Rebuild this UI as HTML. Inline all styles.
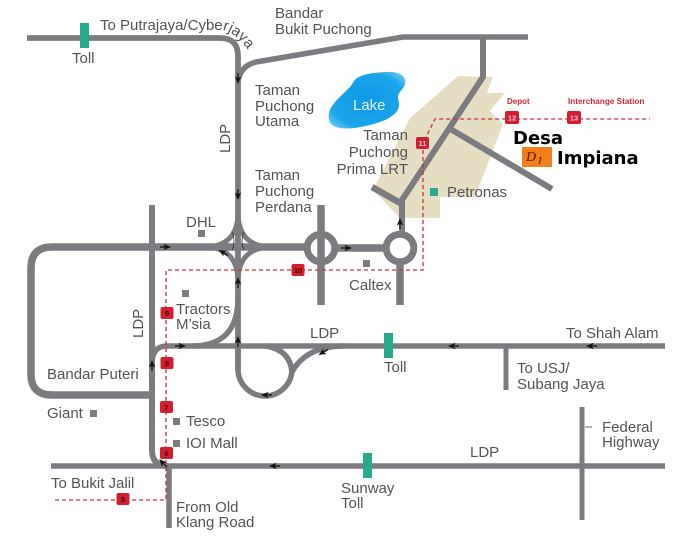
<!DOCTYPE html>
<html><head><meta charset="utf-8"><style>
html,body{margin:0;padding:0;background:#fff;}
body{width:674px;height:538px;overflow:hidden;}
svg{display:block;}
.t{font-family:"Liberation Sans",Arial,sans-serif;font-size:15px;fill:#535356;}
.r{fill:none;stroke:#7c7c80;stroke-linecap:butt;stroke-linejoin:round;}
.mk{fill:#d21f2f;}
.mn{font-family:"Liberation Sans",Arial,sans-serif;font-size:7.5px;font-weight:bold;text-anchor:middle;}
</style></head><body>
<svg width="674" height="538" viewBox="0 0 674 538" xmlns="http://www.w3.org/2000/svg">
<defs>
<radialGradient id="lk" cx="50%" cy="50%" r="60%">
<stop offset="0" stop-color="#0f98e4"/><stop offset="0.8" stop-color="#1ba5ea"/><stop offset="1" stop-color="#55c0f2"/>
</radialGradient>
<g id="ar"><path d="M-7,0 H1" stroke="#151515" stroke-width="1.3"/><path d="M4,0 L-3.5,-3.2 L-1.8,0 L-3.5,3.2 Z" fill="#151515"/></g>
</defs>

<!-- beige area -->
<polygon points="410,118 458,76 493,77 487,93 505,93 490,111 503,124 475,197 440,197 440,218 400,218 373,190" fill="#e6dec2"/>

<!-- lake -->
<path d="M357,78 C365,73 380,72 390,72 C400,72 407,77 405,84 C404,89 398,92 398,97 C398,102 401,105 397,111 C392,118 382,122 370,125 C358,128 345,130 336,127 C327,124 327,113 332,106 C337,99 345,92 350,87 C353,83 354,80 357,78 Z" fill="url(#lk)"/>

<!-- roads -->
<path class="r" stroke-width="5.8" d="M27,38 H220 Q238,38 238,56 V370"/>
<path class="r" stroke-width="5.5" d="M238,82 Q240,66 256,62 L403,37 H528"/>
<path class="r" stroke-width="6" d="M483,37 V77 L402,200 V234"/>
<path class="r" stroke-width="6.5" d="M372,187 L402,204"/>
<path class="r" stroke-width="6" d="M447,127 L552,189"/>
<!-- roundabouts -->
<path class="r" stroke-width="7.5" d="M321,205 V305 M400,262 V305"/>
<circle cx="321" cy="248" r="13.8" class="r" stroke-width="7"/>
<circle cx="400" cy="248" r="13.8" class="r" stroke-width="7"/>
<!-- horizontal 247 + loop -->
<path class="r" stroke-width="7.5" d="M152,247 H52 Q31,247 31,268 V374 Q31,395 52,395 H152"/>
<path class="r" stroke-width="7.5" d="M152,247 H307 M335,248 H386"/>
<!-- LDP vertical left -->
<path class="r" stroke-width="6" d="M152,205 V450 Q152,466 168,466"/>
<path class="r" stroke-width="5.5" d="M169,466 V528"/>
<!-- bottom LDP -->
<path class="r" stroke-width="5.5" d="M51,466 H665"/>
<path class="r" stroke-width="5" d="M582,407 V520"/>
<path d="M585,427 H592" stroke="#666" stroke-width="1"/>
<!-- middle LDP -->
<path class="r" stroke-width="5.5" d="M152,364 Q152,346 167,346 H665"/>
<path class="r" stroke-width="5" d="M506,346 V390"/>
<!-- loop under LDP -->
<path class="r" stroke-width="5.5" d="M238,346 V368 A27,27 0 0 0 292,370"/>
<path class="r" stroke-width="5.5" d="M292,372 Q290,350 266,346"/>
<path class="r" stroke-width="5.5" d="M292,372 Q306,346 345,346"/>
<!-- tractors curve -->
<path class="r" stroke-width="5.5" d="M238,298 Q238,346 192,346"/>
<!-- cloverleaf -->
<path class="r" stroke-width="5" d="M238,212 Q238,247 204,247 M238,212 Q238,247 272,247 M238,282 Q238,247 204,247 M238,282 Q238,247 272,247"/>
<path d="M232,232 Q236,240 232,250 M244,232 Q240,240 244,250" fill="none" stroke="#333" stroke-width="0.8"/>

<!-- toll / green -->
<rect x="80" y="23" width="9" height="25" fill="#25ab8b"/>
<rect x="384" y="333" width="9" height="25" fill="#25ab8b"/>
<rect x="363" y="453" width="9" height="25" fill="#25ab8b"/>
<rect x="430" y="188" width="8" height="8" fill="#25ab8b"/>
<!-- gray squares -->
<g fill="#7c7c80">
<rect x="198" y="230" width="7" height="7"/>
<rect x="182" y="290" width="7" height="7"/>
<rect x="363" y="260" width="7" height="7"/>
<rect x="90" y="410" width="7" height="7"/>
<rect x="173" y="418" width="7" height="7"/>
<rect x="173" y="440" width="7" height="7"/>
</g>

<!-- red dashed line -->
<path d="M55,500 H166 V270 H423 V143 L435,119 H650" fill="none" stroke="#c9303c" stroke-width="1.3" stroke-dasharray="4 3"/>
<!-- markers -->
<g>
<rect class="mk" x="116.5" y="493" width="13" height="12" rx="2"/><text class="mn" x="123" y="502" fill="#4a0000">5</text>
<rect class="mk" x="160" y="447" width="13" height="12" rx="2"/><text class="mn" x="166.5" y="456" fill="#4a0000">6</text>
<rect class="mk" x="160" y="401" width="13" height="12" rx="2"/><text class="mn" x="166.5" y="410" fill="#4a0000">7</text>
<rect class="mk" x="160.5" y="357" width="13" height="12" rx="2"/><text class="mn" x="167" y="366" fill="#4a0000">8</text>
<rect class="mk" x="160.5" y="307" width="13" height="12" rx="2"/><text class="mn" x="167" y="316" fill="#4a0000">9</text>
<rect class="mk" x="291.5" y="264" width="13" height="12" rx="2"/><text class="mn" x="298" y="273" fill="#4a0000">10</text>
<rect class="mk" x="416" y="137" width="13" height="12" rx="2"/><text class="mn" x="422.5" y="146" fill="#fbd">11</text>
<rect class="mk" x="505" y="111" width="14" height="13" rx="2"/><text class="mn" x="512" y="120.5" fill="#fbd">12</text>
<rect class="mk" x="567" y="111" width="14" height="13" rx="2"/><text class="mn" x="574" y="120.5" fill="#fbd">13</text>
</g>
<text x="507" y="104" font-family="Liberation Sans,Arial,sans-serif" font-size="8" font-weight="bold" fill="#c8283a">Depot</text>
<text x="568" y="104" font-family="Liberation Sans,Arial,sans-serif" font-size="8.2" font-weight="bold" fill="#c8283a">Interchange Station</text>

<!-- arrows -->
<use href="#ar" transform="translate(238,80) rotate(90)"/>
<use href="#ar" transform="translate(238,196) rotate(90)"/>
<use href="#ar" transform="translate(238,281) rotate(-90)"/>
<use href="#ar" transform="translate(238,340) rotate(-90)"/>
<use href="#ar" transform="translate(167,247)"/>
<use href="#ar" transform="translate(222,252) rotate(-150)"/>
<use href="#ar" transform="translate(348,248)"/>
<use href="#ar" transform="translate(400,222) rotate(-90)"/>
<use href="#ar" transform="translate(152,364) rotate(-90)"/>
<use href="#ar" transform="translate(182,346)"/>
<use href="#ar" transform="translate(452,346) rotate(180)"/>
<use href="#ar" transform="translate(590,346) rotate(180)"/>
<use href="#ar" transform="translate(322,353) rotate(150)"/>
<use href="#ar" transform="translate(265,395) rotate(180)"/>
<use href="#ar" transform="translate(273,466) rotate(180)"/>
<use href="#ar" transform="translate(162,462) rotate(-135)"/>

<!-- labels -->
<path id="pj" d="M100,30 L222,30 Q236,31 254,58" fill="none"/>
<text class="t"><textPath href="#pj">To Putrajaya/Cyberjaya</textPath></text>
<text class="t" x="72" y="63">Toll</text>
<text class="t" x="275" y="18">Bandar</text>
<text class="t" x="275" y="34">Bukit Puchong</text>
<text class="t" x="255" y="95">Taman</text>
<text class="t" x="255" y="111">Puchong</text>
<text class="t" x="255" y="126">Utama</text>
<text class="t" transform="translate(230,153) rotate(-90)">LDP</text>
<text class="t" x="255" y="180">Taman</text>
<text class="t" x="255" y="196">Puchong</text>
<text class="t" x="255" y="212">Perdana</text>
<text x="353" y="110" font-family="Liberation Sans,Arial,sans-serif" font-size="15" fill="#e4f6ff">Lake</text>
<text class="t" x="408" y="140" text-anchor="end">Taman</text>
<text class="t" x="408" y="157" text-anchor="end">Puchong</text>
<text class="t" x="408" y="174" text-anchor="end">Prima LRT</text>
<text class="t" x="447" y="197">Petronas</text>
<text class="t" x="186" y="227">DHL</text>
<text class="t" x="349" y="290">Caltex</text>
<text class="t" x="176" y="314">Tractors</text>
<text class="t" x="176" y="329">M’sia</text>
<text class="t" transform="translate(143,338) rotate(-90)">LDP</text>
<text class="t" x="310" y="338">LDP</text>
<text class="t" x="566" y="338">To Shah Alam</text>
<text class="t" x="47" y="379">Bandar Puteri</text>
<text class="t" x="384" y="372">Toll</text>
<text class="t" x="517" y="373">To USJ/</text>
<text class="t" x="517" y="389">Subang Jaya</text>
<text class="t" x="47" y="418">Giant</text>
<text class="t" x="186" y="426">Tesco</text>
<text class="t" x="186" y="448">IOI Mall</text>
<text class="t" x="602" y="432">Federal</text>
<text class="t" x="602" y="447">Highway</text>
<text class="t" x="470" y="457">LDP</text>
<text class="t" x="51" y="488">To Bukit Jalil</text>
<text class="t" x="341" y="493">Sunway</text>
<text class="t" x="341" y="508">Toll</text>
<text class="t" x="176" y="512">From Old</text>
<text class="t" x="176" y="527">Klang Road</text>

<!-- Desa Impiana -->
<text x="513" y="144" font-family="DejaVu Sans,Verdana,sans-serif" font-size="18" font-weight="bold" fill="#000">Desa</text>
<rect x="522" y="147" width="30" height="20" fill="#f07f1c"/>
<text x="526" y="161" font-family="Liberation Serif,serif" font-style="italic" font-size="14" fill="#5a1800">D</text>
<text x="538" y="164" font-family="Liberation Serif,serif" font-style="italic" font-size="11" fill="#5a1800">I</text>
<text x="557" y="164" font-family="DejaVu Sans,Verdana,sans-serif" font-size="18" font-weight="bold" fill="#000">Impiana</text>
</svg>
</body></html>
